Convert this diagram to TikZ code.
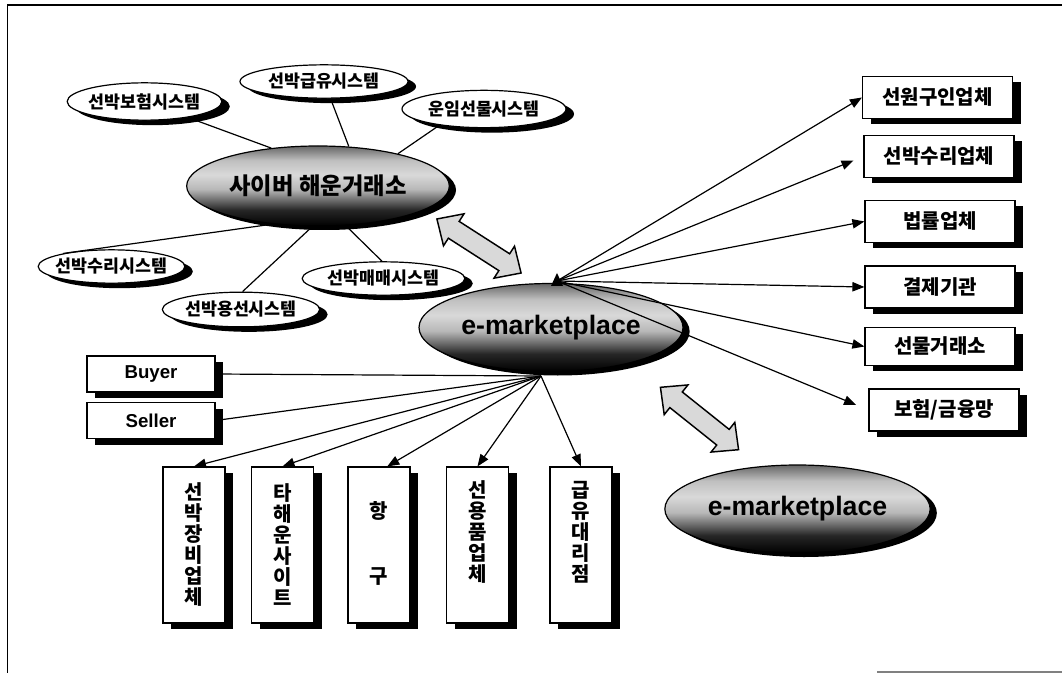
\documentclass[tikz,border=0pt]{standalone}
\usepackage{fontspec}
\usepackage{tikz}
\usetikzlibrary{shapes.geometric,arrows.meta,shadows}
\newfontfamily\kor{Noto Sans CJK KR}
\newfontfamily\lat{Liberation Sans}

% dark rim, pale band, black base (path fits 25bp..75bp)
\pgfdeclareverticalshading{ovalshade}{100bp}{color(0bp)=(black); color(25bp)=(black); color(35bp)=(black!85); color(48bp)=(black!28); color(57bp)=(black!15); color(66bp)=(black!25); color(75bp)=(black!60); color(100bp)=(black!60)}

\tikzset{
  sysoval/.style={ellipse, draw, line width=0.9pt, fill=white, inner xsep=-20pt, inner ysep=0pt,
    font=\kor\bfseries\fontsize{13}{15}\selectfont,
    drop shadow={shadow xshift=6pt, shadow yshift=-3.75pt, opacity=1, fill=black}},
  bigoval/.style={ellipse, draw, line width=0.9pt, shading=ovalshade, inner xsep=-20pt, inner ysep=0pt,
    drop shadow={shadow xshift=5pt, shadow yshift=-3pt, opacity=1, fill=black}},
  partbox/.style={rectangle, draw, line width=0.9pt, fill=white, minimum width=112.5pt, minimum height=31.5pt, inner sep=0pt,
    font=\kor\bfseries\fontsize{15}{18}\selectfont,
    drop shadow={shadow xshift=6pt, shadow yshift=-4.5pt, opacity=1, fill=black}},
  tradebox/.style={partbox, minimum width=96pt, minimum height=27pt, font=\lat\bfseries\fontsize{14}{16}\selectfont},
  vbox/.style={partbox, minimum width=46.5pt, minimum height=117pt, align=center, font=\kor\bfseries\fontsize{15}{15.75}\selectfont},
  link/.style={line width=0.9pt},
  feed/.style={link, -{Triangle[length=9pt,width=7pt]}},
  blockarrow/.style={draw, line width=1.1pt, fill=gray!30, line join=miter}
}

% two-headed block arrow: centre x, centre y, angle
\newcommand{\twowayarrow}[3]{%
  \begin{scope}[shift={(#1,#2)}, rotate=#3]
    \draw[blockarrow] (-50,0) -- (-30,-19) -- (-30,-10) -- (30,-10) -- (30,-19) -- (50,0)
      -- (30,19) -- (30,10) -- (-30,10) -- (-30,19) -- cycle;
  \end{scope}}

\begin{document}
\begin{tikzpicture}[x=0.75pt, y=-0.75pt]

% ---- Frame ----
\useasboundingbox (0,0) rectangle (1062,673);
\draw[line width=1pt] (1062,5) -- (7.5,5) -- (7.5,673);
\draw[gray, line width=0.8pt] (877,672) -- (1062,672);

% ---- Cyber shipping exchange and its systems ----
\node[bigoval, minimum width=197pt, minimum height=60pt, font=\kor\bfseries\fontsize{17.5}{20}\selectfont] (cyber) at (318,186) {사이버 해운거래소};
\node[sysoval, minimum width=116pt, minimum height=28pt] (insur) at (144.5,101.5) {선박보험시스템};
\node[sysoval, minimum width=126pt, minimum height=25pt] (bunker) at (324,81.5) {선박급유시스템};
\node[sysoval, minimum width=123pt, minimum height=28pt] (freight) at (484,109) {운임선물시스템};
\node[sysoval, minimum width=110pt, minimum height=25pt] (repsys) at (111.5,266.5) {선박수리시스템};
\node[sysoval, minimum width=122pt, minimum height=25pt] (sale) at (383.5,278.5) {선박매매시스템};
\node[sysoval, minimum width=118pt, minimum height=26pt] (charter) at (241,309.5) {선박용선시스템};

\draw[link] (insur) -- (cyber.141);
\draw[link] (bunker) -- (cyber.52);
\draw[link] (freight.200) -- (cyber.22);
\draw[link] (repsys.165) -- (cyber.220);
\draw[link] (charter.85) -- (cyber.262);
\draw[link] (sale.95) -- (cyber.305);

% ---- e-marketplace hub ----
\node[bigoval, minimum width=198pt, minimum height=66pt, font=\lat\bfseries\fontsize{20}{24}\selectfont] (market) at (551,327.5) {e-marketplace};
\coordinate (hubT) at (557,281);
\coordinate (hubB) at (541,376);

% ---- Right-hand partners ----
\node[partbox] (crew) at (937.5,97.5) {선원구인업체};
\node[partbox] (repair) at (939,156.5) {선박수리업체};
\node[partbox] (legal) at (940,221.5) {법률업체};
\node[partbox] (settle) at (940,287) {결제기관};
\node[partbox, minimum height=28pt] (futures) at (940,346.5) {선물거래소};
\node[partbox] (finance) at (944,410) {보험/금융망};

\foreach \b in {crew,legal,settle,futures}
  \draw[feed] (hubT) -- (\b.west);
\draw[feed, shorten >=8pt] (hubT) -- (repair.west);
\draw[feed, shorten >=10pt] (hubT) -- (finance.west);
\fill (hubT) +(-6,5) -- +(0,-8) -- +(6,5) -- cycle;

% ---- Buyer / Seller ----
\node[tradebox] (buyer) at (151,374) {Buyer};
\node[tradebox] (seller) at (151,420.5) {Seller};
\draw[link] (buyer.east) -- (hubB);
\draw[link] (seller.east) -- (hubB);

% ---- Lower partners ----
\node[vbox] (equip) at (194,545) {선\\박\\장\\비\\업\\체};
\node[vbox] (othersite) at (282.5,545) {타\\해\\운\\사\\이\\트};
\node[vbox] (harbour) at (379,545) {\strut\\항\\\strut\\\strut\\구\\\strut};
\node[vbox] (chandler) at (477.5,545) {선\\용\\품\\업\\체\\\strut};
\node[vbox] (fuelag) at (581,545) {급\\유\\대\\리\\점\\\strut};

\foreach \b in {equip,othersite,chandler,fuelag}
  \draw[feed] (hubB) -- (\b.north);
\draw[feed] (hubB) -- (harbour.84);

% ---- Second marketplace ----
\node[bigoval, minimum width=199pt, minimum height=66pt, font=\lat\bfseries\fontsize{20}{24}\selectfont] (market2) at (797.5,509) {e-marketplace};

% ---- Two-way block arrows ----
\twowayarrow{479}{246}{-32.7}
\twowayarrow{699.5}{418.5}{-38.6}

\end{tikzpicture}
\end{document}
